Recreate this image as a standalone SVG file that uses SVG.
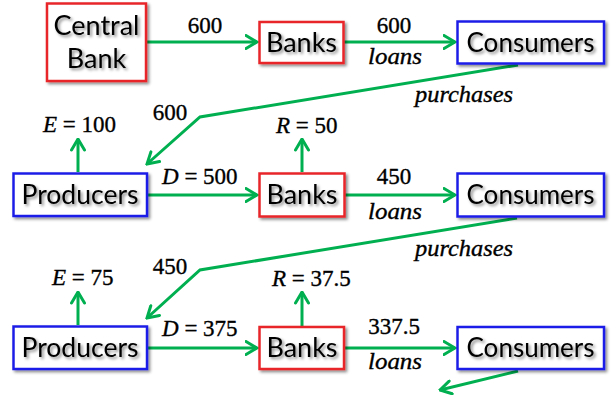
<svg xmlns="http://www.w3.org/2000/svg" width="611" height="396" viewBox="0 0 611 396">
<defs>
<filter id="sh" x="-20%" y="-30%" width="140%" height="160%">
<feDropShadow dx="2" dy="2" stdDeviation="1.6" flood-color="#000" flood-opacity="0.45"/>
</filter>
<marker id="ah" viewBox="0 0 14 16" refX="12.5" refY="8" markerWidth="14" markerHeight="16" markerUnits="userSpaceOnUse" orient="auto">
<path d="M1.5,1.5 L12.5,8 L1.5,14.5" fill="none" stroke="#00b050" stroke-width="3" stroke-linecap="round" stroke-linejoin="miter"/>
</marker>
</defs>
<style>
.red{fill:#fff;stroke:#e8262b;stroke-width:2.5;filter:url(#sh)}
.blue{fill:#fff;stroke:#1f1fe8;stroke-width:2.5;filter:url(#sh)}
.lbl{font-family:Lato,"Liberation Sans",sans-serif;font-size:27px;fill:#000;text-anchor:middle;filter:url(#sh)}
.c{fill:none;stroke:#00b050;stroke-width:3;marker-end:url(#ah)}
.m{font-family:"Liberation Serif","Times New Roman",serif;font-size:23px;fill:#000;stroke:#000;stroke-width:0.35}
.mc{text-anchor:middle}
.i{font-style:italic}
</style>

<g id="connectors">
<line class="c" x1="147" y1="42" x2="257" y2="42"/>
<line class="c" x1="344" y1="42" x2="455" y2="42"/>
<polyline class="c" points="518,65 200,117 147,164"/>
<line class="c" x1="78" y1="172" x2="78" y2="139"/>
<line class="c" x1="302" y1="172" x2="302" y2="139"/>
<line class="c" x1="148" y1="195" x2="257" y2="195"/>
<line class="c" x1="345" y1="195" x2="455" y2="195"/>
<polyline class="c" points="517,218 200,270 147,318"/>
<line class="c" x1="78" y1="325" x2="78" y2="292"/>
<line class="c" x1="302" y1="326" x2="302" y2="292"/>
<line class="c" x1="148" y1="348" x2="257" y2="348"/>
<line class="c" x1="345" y1="348" x2="455" y2="348"/>
<line class="c" x1="518" y1="371" x2="440" y2="390"/>
</g>

<g id="labels">
<text class="m mc" x="205" y="33">600</text>
<text class="m mc" x="394" y="33">600</text>
<text class="m mc i" x="395" y="64" textLength="54" lengthAdjust="spacingAndGlyphs">loans</text>
<text class="m mc" x="170" y="120">600</text>
<text class="m mc i" x="464" y="102" textLength="98" lengthAdjust="spacingAndGlyphs">purchases</text>
<text class="m" x="43" y="132"><tspan class="i">E</tspan> = 100</text>
<text class="m" x="276" y="133"><tspan class="i">R</tspan> = 50</text>
<text class="m" x="162" y="184"><tspan class="i">D</tspan> = 500</text>
<text class="m mc" x="394" y="184">450</text>
<text class="m mc i" x="395" y="219" textLength="54" lengthAdjust="spacingAndGlyphs">loans</text>
<text class="m mc" x="170" y="274">450</text>
<text class="m mc i" x="464" y="256" textLength="98" lengthAdjust="spacingAndGlyphs">purchases</text>
<text class="m" x="52" y="285"><tspan class="i">E</tspan> = 75</text>
<text class="m" x="272" y="286"><tspan class="i">R</tspan> = 37.5</text>
<text class="m" x="162" y="336"><tspan class="i">D</tspan> = 375</text>
<text class="m mc" x="394" y="334">337.5</text>
<text class="m mc i" x="395" y="369" textLength="54" lengthAdjust="spacingAndGlyphs">loans</text>
</g>

<g id="central-bank">
<rect class="red" x="47" y="3.5" width="99" height="77.5"/>
<text class="lbl" x="96.5" y="35">Central</text>
<text class="lbl" x="96.5" y="68">Bank</text>
</g>
<g id="banks-1">
<rect class="red" x="259.5" y="22" width="84" height="41"/>
<text class="lbl" x="301.5" y="52">Banks</text>
</g>
<g id="consumers-1">
<rect class="blue" x="457.5" y="21.5" width="146.5" height="42"/>
<text class="lbl" x="530.5" y="52" textLength="128" lengthAdjust="spacingAndGlyphs">Consumers</text>
</g>
<g id="producers-2">
<rect class="blue" x="13.5" y="173.5" width="133.5" height="42.5"/>
<text class="lbl" x="80" y="204" textLength="117" lengthAdjust="spacingAndGlyphs">Producers</text>
</g>
<g id="banks-2">
<rect class="red" x="259.5" y="173.5" width="85" height="43"/>
<text class="lbl" x="302" y="204">Banks</text>
</g>
<g id="consumers-2">
<rect class="blue" x="457.5" y="173.5" width="146.5" height="43"/>
<text class="lbl" x="530.5" y="204" textLength="128" lengthAdjust="spacingAndGlyphs">Consumers</text>
</g>
<g id="producers-3">
<rect class="blue" x="13.5" y="326.5" width="133.5" height="42.5"/>
<text class="lbl" x="80" y="357" textLength="117" lengthAdjust="spacingAndGlyphs">Producers</text>
</g>
<g id="banks-3">
<rect class="red" x="259.5" y="327" width="84.5" height="42"/>
<text class="lbl" x="302" y="357">Banks</text>
</g>
<g id="consumers-3">
<rect class="blue" x="457.5" y="327" width="146.5" height="42"/>
<text class="lbl" x="530.5" y="357" textLength="128" lengthAdjust="spacingAndGlyphs">Consumers</text>
</g>
</svg>
